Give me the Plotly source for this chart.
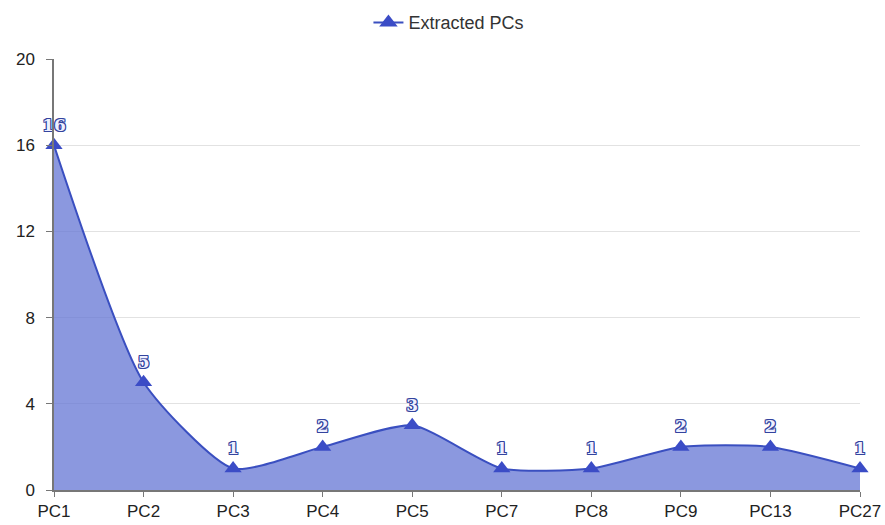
import plotly.graph_objects as go

categories = ["PC1", "PC2", "PC3", "PC4", "PC5", "PC7", "PC8", "PC9", "PC13", "PC27"]
values = [16, 5, 1, 2, 3, 1, 1, 2, 2, 1]
y_ticks = [0, 4, 8, 12, 16, 20]
series_name = "Extracted PCs"

oc = "#34449e"
outline = f"1px 1px 0 {oc}, -1px -1px 0 {oc}, 1px -1px 0 {oc}, -1px 1px 0 {oc}, 0 1px 0 {oc}, 0 -1px 0 {oc}, 1px 0 0 {oc}, -1px 0 0 {oc}"

line_color = "#3a4fc0"
marker_color = "#3b4cc6"

fig = go.Figure()
fig.add_trace(go.Scatter(
    x=categories, y=values, name=series_name, showlegend=False,
    mode="lines+markers+text",
    line=dict(shape="spline", smoothing=0.6, color=line_color, width=2),
    fill="tozeroy", fillcolor="rgba(100,118,212,0.75)",
    marker=dict(symbol="triangle-up", size=15, color=marker_color),
    text=[str(v) for v in values], textposition="top center",
    textfont=dict(family="DejaVu Serif", size=17, color="#eef0ff", weight="bold", shadow=outline),
    cliponaxis=False,
))
# legend entry: line with triangle marker
fig.add_trace(go.Scatter(
    x=[None], y=[None], name=series_name, mode="lines+markers",
    line=dict(color=line_color, width=2),
    marker=dict(symbol="triangle-up", size=16, color=marker_color),
))

fig.update_layout(
    width=885, height=525,
    margin=dict(l=54, r=25, t=59, b=35, autoexpand=False),
    paper_bgcolor="white", plot_bgcolor="white",
    font=dict(family="Liberation Sans, Arial", size=17, color="#222"),
    showlegend=True,
    legend=dict(orientation="h", x=0.49, xanchor="center", yref="container", y=0.992, yanchor="top",
                font=dict(size=18, color="#333")),
    xaxis=dict(type="category", range=[0, len(categories) - 1], showgrid=False, automargin=False,
               showline=True, linecolor="#777", linewidth=1.5,
               ticks="outside", ticklen=5, tickcolor="#777", ticklabelstandoff=0,
               tickfont=dict(size=17, color="#222")),
    yaxis=dict(range=[0, 20], tickvals=y_ticks, showgrid=True, gridcolor="#e2e2e2", automargin=False,
               showline=True, linecolor="#777", linewidth=1.5,
               ticks="outside", ticklen=6, tickcolor="#777", ticklabelstandoff=8,
               tickfont=dict(size=17, color="#222"), zeroline=False),
)
fig.write_html("out.html", config={"displayModeBar": False},
               post_script="document.body.style.margin='0';document.body.style.overflow='hidden';")
